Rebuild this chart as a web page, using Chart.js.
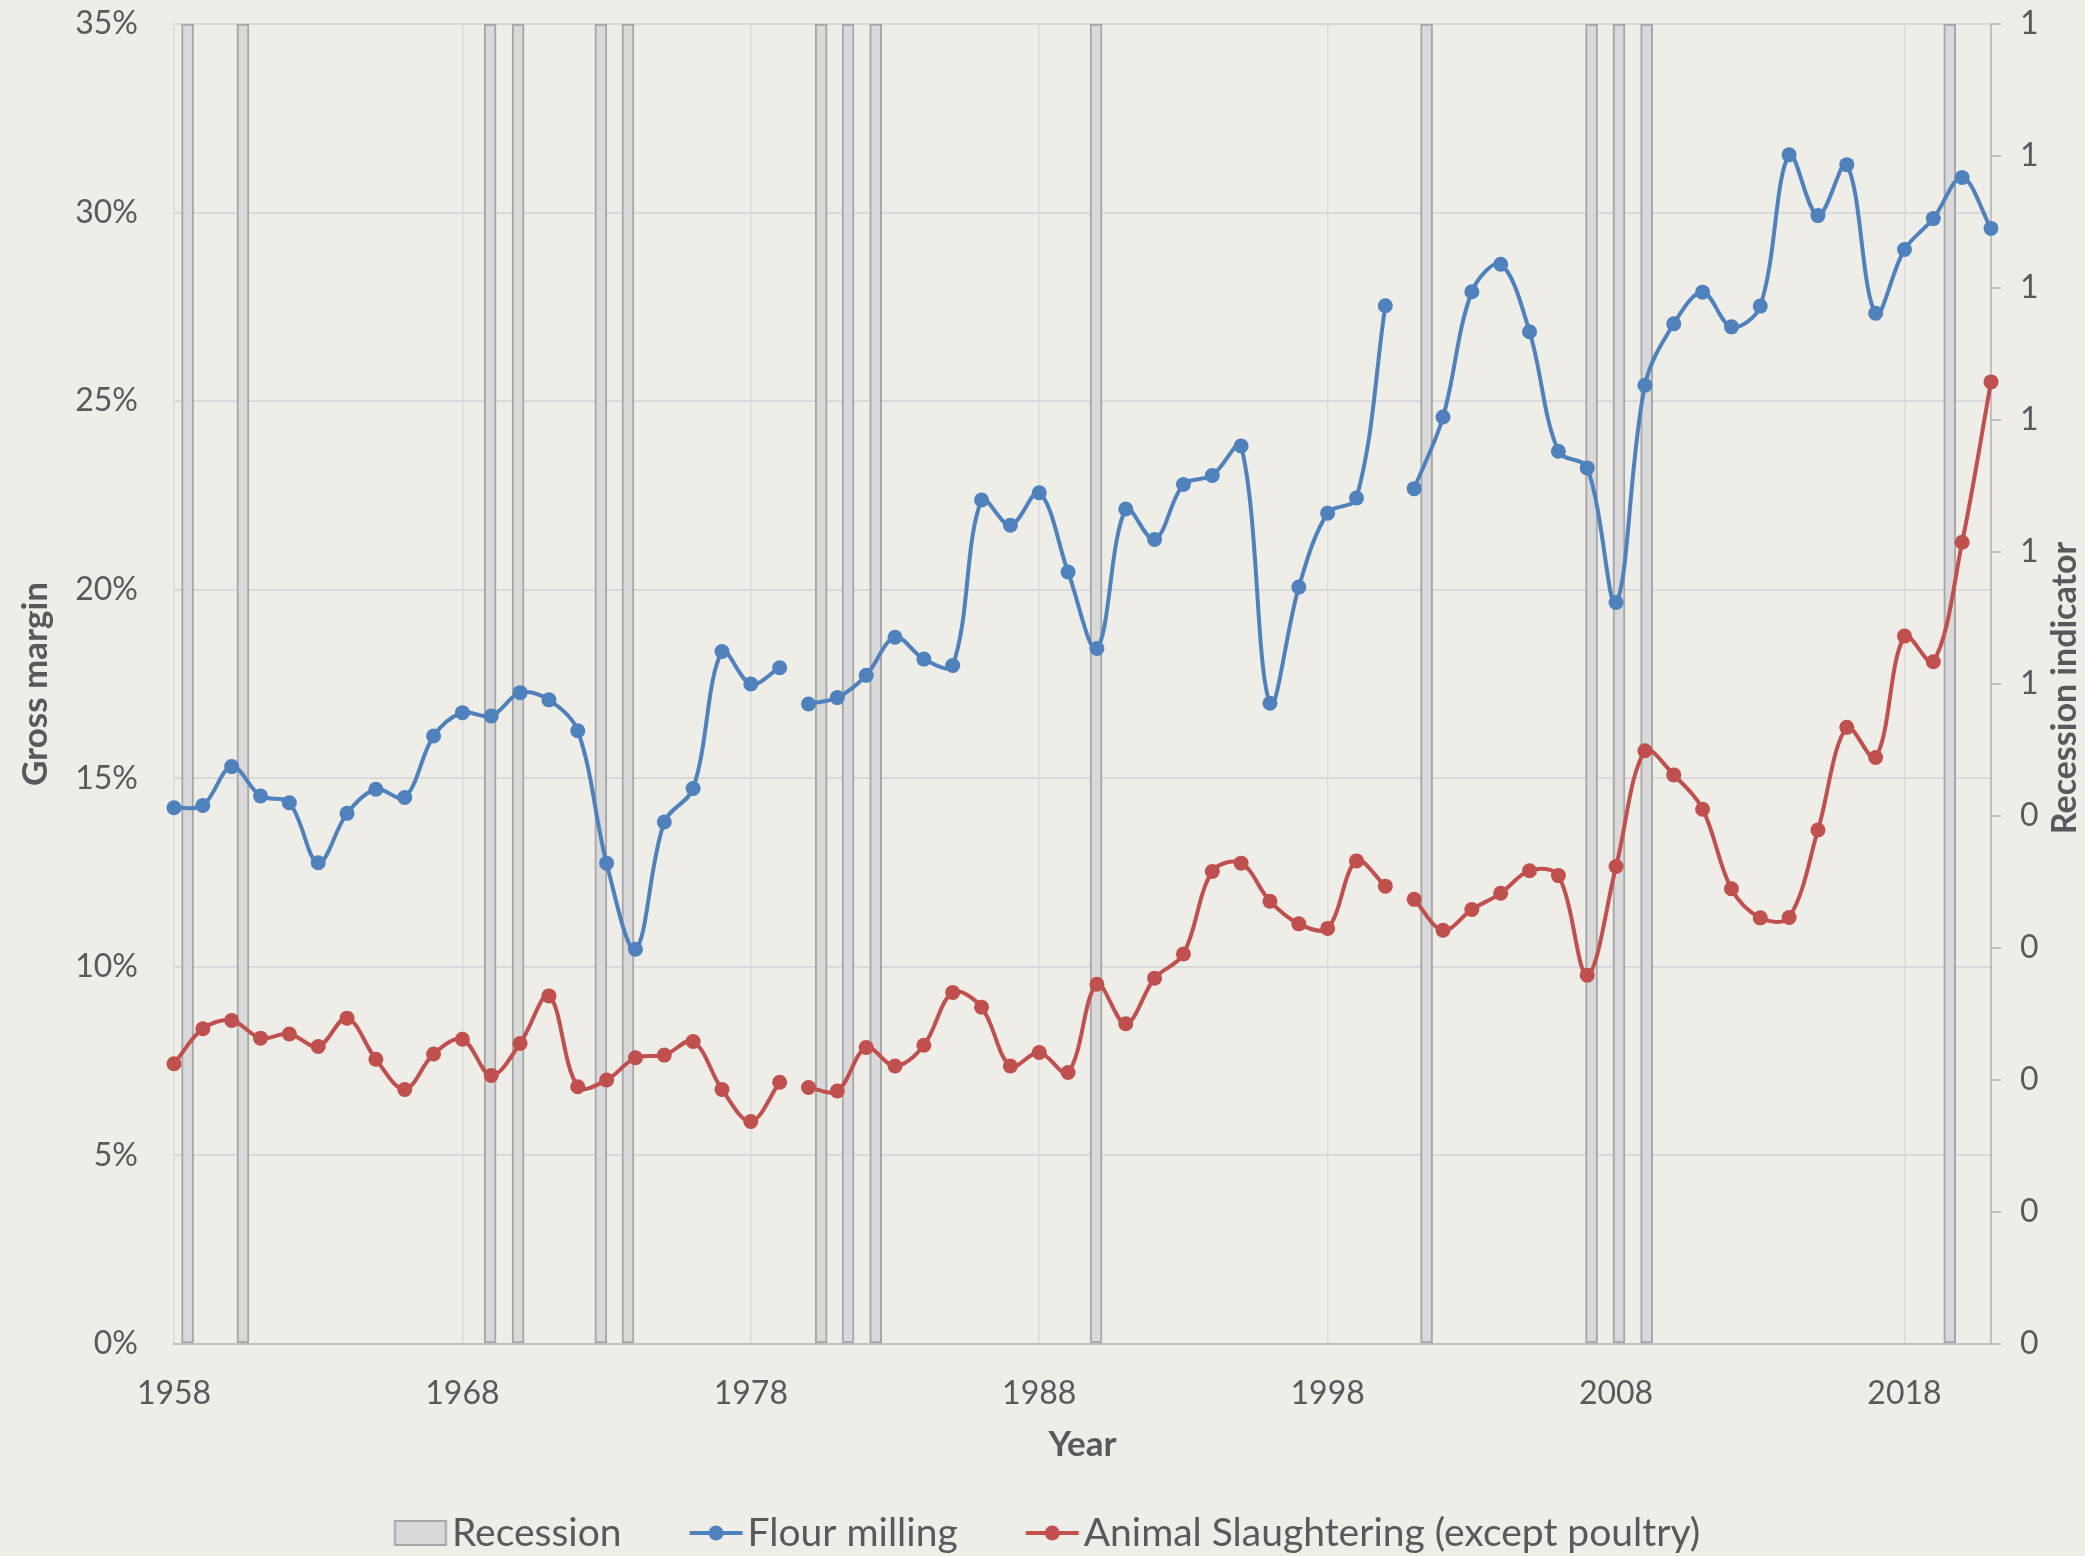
<!DOCTYPE html>
<html>
<head>
<meta charset="utf-8">
<script src="https://cdn.jsdelivr.net/npm/chart.js@4.4.1/dist/chart.umd.min.js"></script>
<style>
html,body{margin:0;padding:0;background:#EEEDE8;overflow:hidden}
canvas{display:block}
</style>
</head>
<body>
<canvas id="c" width="2085" height="1556"></canvas>
<script>
// ---- data ----
const years = [1958,1959,1960,1961,1962,1963,1964,1965,1966,1967,1968,1969,1970,1971,1972,1973,1974,1975,1976,1977,1978,1979,
  1980,1981,1982,1983,1984,1985,1986,1987,1988,1989,1990,1991,1992,1993,1994,1995,1996,1997,1998,1999,2000,
  2001,2002,2003,2004,2005,2006,2007,2008,2009,2010,2011,2012,2013,2014,2015,2016,2017,2018,2019,2020,2021];

const flourMilling = [14.22,14.28,15.31,14.53,14.35,12.76,14.07,14.71,14.49,16.12,16.74,16.65,17.27,17.08,16.26,12.75,10.47,13.84,14.73,18.36,17.50,17.93,
  16.97,17.14,17.73,18.74,18.16,17.99,22.38,21.71,22.57,20.47,18.44,22.14,21.33,22.79,23.03,23.81,16.99,20.07,22.03,22.43,27.53,
  22.68,24.58,27.90,28.63,26.84,23.67,23.23,19.66,25.42,27.05,27.89,26.97,27.52,31.53,29.92,31.27,27.33,29.02,29.84,30.93,29.58];

const animalSlaughtering = [7.43,8.36,8.58,8.11,8.22,7.89,8.64,7.55,6.75,7.69,8.08,7.12,7.97,9.23,6.82,7.00,7.59,7.66,8.02,6.75,5.90,6.94,
  6.80,6.71,7.86,7.37,7.92,9.32,8.93,7.37,7.73,7.20,9.54,8.49,9.70,10.34,12.53,12.75,11.74,11.14,11.02,12.81,12.14,
  11.79,10.97,11.52,11.95,12.55,12.42,9.78,12.66,15.73,15.09,14.18,12.07,11.30,11.31,13.63,16.35,15.55,18.77,18.09,21.26,25.51];

// the lines are broken right after these years
const lineBreakAfter = [1979, 2000];

// recession indicator bars (position on the year axis, indicator value)
const recessionPositions = [1958.47,1960.39,1968.96,1969.93,1972.80,1973.74,1980.44,1981.37,1982.33,1989.97,2001.43,2007.15,2008.10,2009.06,2019.57];
const recessionValues    = [1,1,1,1,1,1,1,1,1,1,1,1,1,1,1];

const xTickYears = [1958,1968,1978,1988,1998,2008,2018];
const seriesNames = ['Recession','Flour milling','Animal Slaughtering (except poultry)'];
const axisTitles = {x:'Year', y:'Gross margin', y2:'Recession indicator'};

// ---- helpers ----
function buildSeries(vals){
  const out = [];
  years.forEach((yr,i) => {
    out.push({x: yr, y: vals[i]});
    if (lineBreakAfter.includes(yr)) out.push({x: yr + 0.5, y: null});
  });
  return out;
}

const BLUE = '#4F81BD', RED = '#C0504D', TXT = '#595959';
const FONT = 'Lato';
const TICK_SIZE = 32, TITLE_SIZE = 35, LEGEND_SIZE = 39;

function legendIcon(kind, color){
  const c = document.createElement('canvas');
  c.width = 120; c.height = 30;
  const g = c.getContext('2d');
  const o = 45.25;
  if (kind === 'box'){
    g.fillStyle = '#D9D9D9';
    g.fillRect(o, 2, 53, 26);
    g.strokeStyle = '#A6A6A6';
    g.lineWidth = 2;
    g.strokeRect(o + 1, 3, 51, 24);
  } else {
    g.strokeStyle = color; g.lineWidth = 4;
    g.beginPath(); g.moveTo(o, 15); g.lineTo(o + 53, 15); g.stroke();
    g.fillStyle = color;
    g.beginPath(); g.arc(o + 26.5, 15, 7.5, 0, Math.PI * 2); g.fill();
  }
  return c;
}

const bgPlugin = {
  id: 'bg',
  beforeDraw(chart){
    const ctx = chart.ctx;
    ctx.save();
    ctx.fillStyle = '#EEEDE8';
    ctx.fillRect(0, 0, chart.width, chart.height);
    ctx.restore();
  }
};

const rightTitlePlugin = {
  id: 'rightTitle',
  afterDraw(chart){
    const ctx = chart.ctx, a = chart.chartArea, s = chart.scales.y2;
    ctx.save();
    ctx.translate(s.right - 20, (a.top + a.bottom) / 2 + 4);
    ctx.rotate(-Math.PI / 2);
    ctx.font = 'bold 34px ' + FONT;
    ctx.fillStyle = TXT;
    ctx.textAlign = 'center';
    ctx.textBaseline = 'middle';
    ctx.fillText(axisTitles.y2, 0, 0);
    ctx.restore();
  }
};

function noPad(s){ s.paddingTop = 0; s.paddingBottom = 0; s.paddingLeft = 0; s.paddingRight = 0; }

function draw(){
  const icons = [legendIcon('box'), legendIcon('line', BLUE), legendIcon('line', RED)];
  new Chart(document.getElementById('c'), {
    type: 'line',
    data: {
      datasets: [
        {
          type: 'bar', label: seriesNames[0],
          data: recessionPositions.map((x, i) => ({x: x, y: recessionValues[i]})),
          xAxisID: 'x', yAxisID: 'y2',
          backgroundColor: '#D9D9D9', borderColor: '#A6A6A6', borderWidth: 2, borderSkipped: false,
          barThickness: 12, grouped: false, order: 3
        },
        {
          type: 'line', label: seriesNames[1],
          data: buildSeries(flourMilling),
          xAxisID: 'x', yAxisID: 'y',
          borderColor: BLUE, backgroundColor: BLUE, borderWidth: 4,
          pointRadius: 7.5, pointBackgroundColor: BLUE, pointBorderWidth: 0, pointHoverRadius: 7.5,
          tension: 0.35, spanGaps: false, clip: false, order: 1
        },
        {
          type: 'line', label: seriesNames[2],
          data: buildSeries(animalSlaughtering),
          xAxisID: 'x', yAxisID: 'y',
          borderColor: RED, backgroundColor: RED, borderWidth: 4,
          pointRadius: 7.5, pointBackgroundColor: RED, pointBorderWidth: 0, pointHoverRadius: 7.5,
          tension: 0.35, spanGaps: false, clip: false, order: 2
        }
      ]
    },
    options: {
      responsive: false, animation: false, devicePixelRatio: 1,
      layout: {padding: {top: 24, left: 0, right: 0, bottom: -6.5}},
      plugins: {
        tooltip: {enabled: false},
        legend: {
          position: 'bottom',
          labels: {
            usePointStyle: true, pointStyleWidth: 47.5, padding: 59,
            color: TXT, font: {family: FONT, size: LEGEND_SIZE},
            generateLabels: () => seriesNames.map((t, i) => ({
              text: t, pointStyle: icons[i], fontColor: TXT,
              fillStyle: 'rgba(0,0,0,0)', strokeStyle: 'rgba(0,0,0,0)', lineWidth: 0,
              hidden: false, datasetIndex: i
            }))
          }
        }
      },
      scales: {
        x: {
          type: 'linear', position: 'bottom', min: years[0], max: years[years.length - 1], offset: false,
          afterBuildTicks: s => { s.ticks = xTickYears.map(v => ({value: v})); },
          afterFit: s => { s.height = 110.5; noPad(s); },
          grid: {color: '#DCDCDC', lineWidth: 1.5, drawTicks: false, offset: false},
          border: {color: '#BFBFBF', width: 2},
          ticks: {padding: 30, color: TXT, font: {family: FONT, size: TICK_SIZE}, maxRotation: 0, autoSkip: false, callback: v => String(v)},
          title: {display: true, text: axisTitles.x, color: TXT, font: {family: FONT, size: TITLE_SIZE, weight: 'bold'}, padding: {top: 0, bottom: -11.5}}
        },
        y: {
          position: 'left', min: 0, max: 35,
          afterFit: s => { s.width = 174; noPad(s); },
          grid: {color: '#D9D9D9', lineWidth: 2, drawTicks: false},
          border: {display: false},
          ticks: {stepSize: 5, padding: 36, color: TXT, font: {family: FONT, size: TICK_SIZE}, callback: v => v + '%'},
          title: {display: true, text: axisTitles.y, color: TXT, font: {family: FONT, size: TITLE_SIZE, weight: 'bold'}, padding: {top: 15, bottom: 0}}
        },
        y2: {
          position: 'right', min: 0, max: 1,
          afterFit: s => { s.width = 94; noPad(s); },
          grid: {drawOnChartArea: false, drawTicks: true, tickLength: 10, color: '#BFBFBF', lineWidth: 2},
          border: {color: '#BFBFBF', width: 2},
          ticks: {stepSize: 0.1, padding: 19, color: TXT, font: {family: FONT, size: TICK_SIZE}, callback: v => String(Math.round(v + 1e-9))},
          title: {display: false}
        }
      }
    },
    plugins: [bgPlugin, rightTitlePlugin]
  });
}

Promise.race([
  Promise.all([document.fonts.load('32px Lato'), document.fonts.load('bold 35px Lato'), document.fonts.load('39px Lato')]),
  new Promise(r => setTimeout(r, 1500))
]).then(draw, draw);
</script>
</body>
</html>
